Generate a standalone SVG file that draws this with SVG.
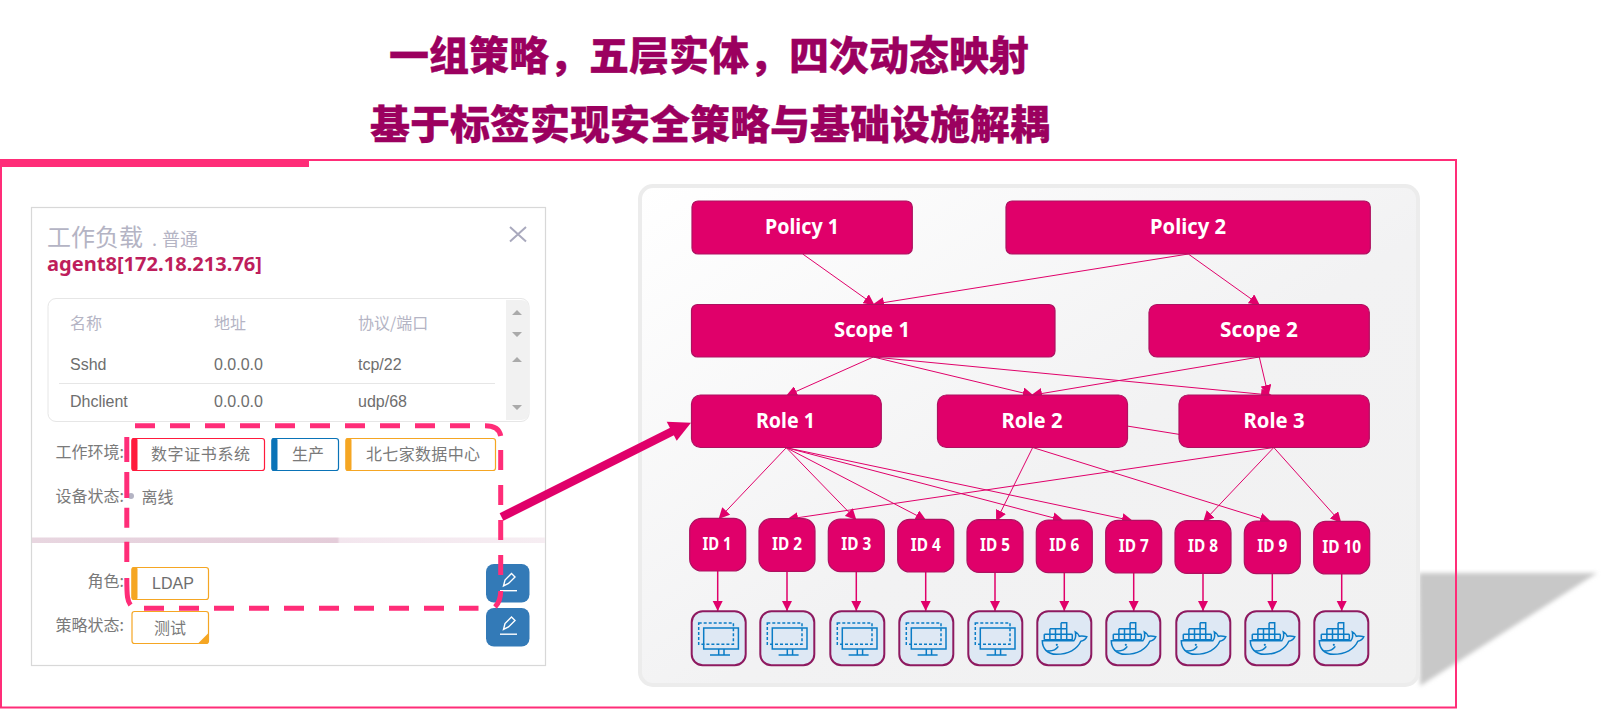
<svg xmlns="http://www.w3.org/2000/svg" width="1612" height="709" viewBox="0 0 1612 709">
<style>
.cjk{font-family:"Noto Sans CJK SC","Liberation Sans",sans-serif}
.title{font-family:"Noto Sans CJK SC",sans-serif;font-size:40px;font-weight:900;fill:#9b005f;stroke:#9b005f;stroke-width:.3}
.lbl{font-family:"Noto Sans CJK SC","Liberation Sans",sans-serif;font-size:16px;fill:#7a7a7a}
.hd{font-family:"Noto Sans CJK SC","Liberation Sans",sans-serif;font-size:16px;fill:#b4b4c4}
.cell{font-family:"Liberation Sans",sans-serif;font-size:16px;fill:#6e6e6e}
.tag{fill:#fff;stroke-width:1.2}
.n{fill:#e0006a;stroke:#ad1160;stroke-width:1.2}
.t{font-family:"Noto Sans","Open Sans",sans-serif;font-weight:700;fill:#fff;text-anchor:middle}
.t1{font-size:21px}
.t2{font-size:17px}
.box{fill:#dee8f4;stroke:#8e1a60;stroke-width:2}
.e{fill:none;stroke:#e0006a;stroke-width:1;marker-end:url(#h)}
.v{fill:none;stroke:#e0006a;stroke-width:1.5;marker-end:url(#hv)}
.i{fill:none;stroke:#0a7cc6;stroke-width:1.5}
.sa{fill:#aaa}
.btn{fill:#337ab7}
.pen{fill:none;stroke:#fff;stroke-width:1.4}
</style>
<defs>
<marker id="h" markerUnits="userSpaceOnUse" markerWidth="12" markerHeight="11" refX="9" refY="5.5" orient="auto"><path d="M0 0L11 5.5L0 11Z" fill="#e0006a"/></marker>
<marker id="hv" markerUnits="userSpaceOnUse" markerWidth="10" markerHeight="11" refX="10" refY="5" orient="auto"><path d="M0 0L10 5L0 10Z" fill="#e0006a"/></marker>
<linearGradient id="pg" x1="0" y1="0" x2="1" y2="1"><stop offset="0" stop-color="#fff"/><stop offset=".55" stop-color="#f2f2f3"/><stop offset="1" stop-color="#f1f1f1"/></linearGradient>
<linearGradient id="band" x1="0" y1="0" x2="1" y2="0"><stop offset="0" stop-color="#e8d6e0"/><stop offset=".595" stop-color="#e4ccd9"/><stop offset=".6" stop-color="#f3e6ee"/><stop offset="1" stop-color="#f6edf2"/></linearGradient>
<filter id="bl" x="-5%" y="-5%" width="110%" height="110%"><feGaussianBlur stdDeviation="2"/></filter>
<g id="vm"><rect class="i" x="7" y="11.7" width="34.7" height="21.3" stroke-dasharray="3 2"/><rect class="i" x="12" y="16.7" width="34.7" height="21" stroke-width="2"/><path class="i" d="M27 37.7V43.5M32.3 37.7V43.5M18.3 43.8H38.3"/></g>
<g id="whale"><path class="i" stroke-width="1.1" d="M5 29.5H36.5C38.5 27 38.8 24 38 20.5C40 21.5 41.5 23 42 25C44 24.5 47 24.8 49.5 25.5C48.5 28 46 29.5 43.5 30C40 38 31 43 19 43C10 43 5 37 5 29.5Z"/><path class="i" stroke-width="1.1" d="M10 39.5C15 40 19 38 21 35"/><circle cx="19.5" cy="33.5" r="1.1" fill="#0a7cc6"/><path class="i" stroke-width="1.4" d="M7 23H35M7 28.5H35M7 23V28.5M12.6 23V28.5M18.2 23V28.5M23.8 23V28.5M29.4 23V28.5M35 23V28.5M12.6 17.5H29.4M12.6 17.5V23M18.2 17.5V23M23.8 17.5V23M29.4 17.5V23M23.8 11.5H29.4V17.5M23.8 11.5V17.5"/></g>
</defs>

<rect width="1612" height="709" fill="#fff"/>
<g id="headline">
<text class="title" x="389" y="70">一组策略，五层实体，四次动态映射</text>
<text class="title" x="370" y="139">基于标签实现安全策略与基础设施解耦</text>
</g>

<g id="shadow"><path d="M1419 573H1597L1420 686Z" fill="#c8c8c8" filter="url(#bl)"/></g>
<g id="frame"><rect x="1" y="160" width="1455" height="547.5" fill="none" stroke="#ff2d78" stroke-width="2"/><rect x="0" y="159" width="309" height="8" fill="#ff2d78"/></g>

<g id="workload-card">
<rect x="31.5" y="207.5" width="514" height="458" fill="#fff" stroke="#d8d8d8" stroke-width="1.2"/>
<text class="cjk" x="47" y="246" font-size="24" fill="#b4b4c4">工作负载</text>
<text class="cjk" x="152" y="246" font-size="18" fill="#b4b4c4">.</text>
<text class="cjk" x="162" y="246" font-size="18" fill="#b4b4c4">普通</text>
<path d="M510 227L526 241.5M526 227L510 241.5" stroke="#a9a9bd" stroke-width="2" fill="none"/>
<text x="47" y="270.5" font-family="Noto Sans,Open Sans,sans-serif" font-size="19" font-weight="700" fill="#be1e5c" textLength="215" lengthAdjust="spacingAndGlyphs">agent8[172.18.213.76]</text>
<rect x="48" y="298.5" width="481" height="123" rx="8" fill="#fff" stroke="#e6e6e6"/>
<path d="M506 300H521Q529 300 529 308V412Q529 420 521 420H506Z" fill="#f1f1f1"/>
<path class="sa" d="M512 315H522L517 310ZM512 332H522L517 337ZM512 362H522L517 357ZM512 405H522L517 410Z"/>
<text class="hd" x="70" y="329">名称</text><text class="hd" x="214" y="329">地址</text><text class="hd" x="358" y="329">协议/端口</text>
<text class="cell" x="70" y="370">Sshd</text><text class="cell" x="214" y="370">0.0.0.0</text><text class="cell" x="358" y="370">tcp/22</text>
<path d="M59 383.5H495" stroke="#e6e6e6"/>
<text class="cell" x="70" y="407">Dhclient</text><text class="cell" x="214" y="407">0.0.0.0</text><text class="cell" x="358" y="407">udp/68</text>

<text class="lbl" x="124" y="458" text-anchor="end">工作环境:</text>
<rect class="tag" x="132" y="438.5" width="132.5" height="32" rx="2.5" stroke="#ff1a3c"/><rect x="131.5" y="438" width="6" height="33" rx="2" fill="#ff1a3c"/>
<text class="lbl" x="151" y="460" textLength="99">数字证书系统</text>
<rect class="tag" x="272" y="438.5" width="66.5" height="32" rx="2.5" stroke="#0a73b7"/><rect x="271.5" y="438" width="6" height="33" rx="2" fill="#0a73b7"/>
<text class="lbl" x="292" y="460">生产</text>
<rect class="tag" x="346" y="438.5" width="149.5" height="32" rx="2.5" stroke="#f5a623"/><rect x="345.5" y="438" width="6" height="33" rx="2" fill="#f5a623"/>
<text class="lbl" x="366" y="460" textLength="114">北七家数据中心</text>
<text class="lbl" x="124" y="502" text-anchor="end">设备状态:</text>
<circle cx="131" cy="496" r="3" fill="#b4b4c4"/>
<text class="lbl" x="141.5" y="503">离线</text>
<rect x="32" y="537.5" width="513" height="5.5" fill="url(#band)"/>
<text class="lbl" x="124" y="587" text-anchor="end">角色:</text>
<rect class="tag" x="132" y="567.5" width="76.5" height="32" rx="2.5" stroke="#f5a623"/><rect x="131.5" y="567" width="6" height="33" rx="2" fill="#f5a623"/>
<text class="cell" x="152" y="589" font-size="17">LDAP</text>
<text class="lbl" x="124" y="631" text-anchor="end">策略状态:</text>
<rect class="tag" x="132" y="611.5" width="76.5" height="32" rx="2.5" stroke="#f5a623"/><path d="M208.5 633V641Q208.5 643.5 206 643.5H198Z" fill="#f5a623"/>
<text class="lbl" x="154" y="634">测试</text>
<rect class="btn" x="486" y="564" width="43.5" height="38.5" rx="8"/>
<path class="pen" d="M503.5 586L505 580L511.5 573.5L515 577L508.5 583.5Z"/><path class="pen" d="M500 590.7H517"/>
<rect class="btn" x="486" y="608" width="43.5" height="38.5" rx="8"/>
<path class="pen" d="M503.5 629.5L505 623.5L511.5 617L515 620.5L508.5 627Z"/><path class="pen" d="M500 634.2H517"/>
</g>

<g id="selection"><path d="M135 425.7H155M170 425.7H190M205 425.7H225M240 425.7H260M275 425.7H295M310 425.7H330M345 425.7H365M380 425.7H400M415 425.7H435M450 425.7H470M485 425.7Q499 425.7 500.7 436M500.7 450V470M500.7 485V505M500.7 520V540M500.7 555V575M500.7 591C500.7 598 499 603 495 607M478.5 608.3H459M444 608.3H424M409 608.3H389M374 608.3H354M339 608.3H319M304 608.3H284M269 608.3H249M234 608.3H214M199 608.3H179M164 608.3H144M130.5 605C127.5 601 126.8 597 126.8 578M126.8 562V541.7M126.8 527.7V507.7M126.8 498V472M126.8 462V437" fill="none" stroke="#ff2d78" stroke-width="5"/></g>

<g id="policy-panel"><rect x="640" y="186" width="778" height="499" rx="13" fill="url(#pg)" stroke="#ececec" stroke-width="4"/></g>

<g id="callout-arrow"><path d="M501.5 517L673 431" stroke="#e0006a" stroke-width="8.5" fill="none"/><path d="M691 422.7L666.7 421.7L676.7 440.7Z" fill="#e0006a"/></g>

<g id="connectors">
<path class="e" d="M802.7 254L873 304"/>
<path class="e" d="M1188.3 254L875 304"/>
<path class="e" d="M1188.3 254L1258.3 304"/>
<path class="e" d="M873.3 357L788 395"/>
<path class="e" d="M873.3 357L1031.7 395"/>
<path class="e" d="M873.3 357L1270 395"/>
<path class="e" d="M1259.3 357L1033 395"/>
<path class="e" d="M1259.3 357L1268 394"/>
<path d="M1127 426L1180 434.5" fill="none" stroke="#e0006a" stroke-width="1"/>
<path class="e" d="M786.3 447.7L720 517.5"/>
<path class="e" d="M786.3 447.7L855 518.5"/>
<path class="e" d="M786.3 447.7L924.6 519.5"/>
<path class="e" d="M786.3 447.7L1061.7 520"/>
<path class="e" d="M786.3 447.7L1131 520.5"/>
<path class="e" d="M1032.7 447.5L997 519.5"/>
<path class="e" d="M1032.7 447.5L1269 521"/>
<path class="e" d="M1273.8 447.5L789 519"/>
<path class="e" d="M1273.8 447.5L1204.5 520.5"/>
<path class="e" d="M1273.8 447.5L1340 521.5"/>
<path class="v" d="M717.7 571V611"/>
<path class="v" d="M787 571V611"/>
<path class="v" d="M856.3 571V611"/>
<path class="v" d="M925.7 572V611"/>
<path class="v" d="M995 572V611"/>
<path class="v" d="M1064.3 572V611"/>
<path class="v" d="M1133.7 573V611"/>
<path class="v" d="M1203 573V611"/>
<path class="v" d="M1272.3 573V611"/>
<path class="v" d="M1341.7 574V611"/>
</g>

<g id="policy-1"><rect class="n" x="692" y="201" width="220.3" height="53" rx="6"/><text class="t t1" x="802" y="234" textLength="74" lengthAdjust="spacingAndGlyphs">Policy 1</text></g>
<g id="policy-2"><rect class="n" x="1006" y="201" width="364.3" height="53" rx="6"/><text class="t t1" x="1188" y="234" textLength="76" lengthAdjust="spacingAndGlyphs">Policy 2</text></g>
<g id="scope-1"><rect class="n" x="691.5" y="304.5" width="363.5" height="52.5" rx="6"/><text class="t t1" x="872" y="337" textLength="76" lengthAdjust="spacingAndGlyphs">Scope 1</text></g>
<g id="scope-2"><rect class="n" x="1149" y="304.5" width="220.3" height="52.5" rx="8"/><text class="t t1" x="1259" y="337" textLength="78" lengthAdjust="spacingAndGlyphs">Scope 2</text></g>
<g id="role-1"><rect class="n" x="691.5" y="395" width="189.8" height="52.5" rx="9"/><text class="t t1" x="785.5" y="427.5" textLength="59" lengthAdjust="spacingAndGlyphs">Role 1</text></g>
<g id="role-2"><rect class="n" x="937.5" y="395" width="190" height="52.5" rx="9"/><text class="t t1" x="1032" y="427.5" textLength="61" lengthAdjust="spacingAndGlyphs">Role 2</text></g>
<g id="role-3"><rect class="n" x="1179" y="395" width="190.3" height="52.5" rx="9"/><text class="t t1" x="1274" y="427.5" textLength="61" lengthAdjust="spacingAndGlyphs">Role 3</text></g>

<g id="id-1"><rect class="n" x="689.7" y="518.3" width="56" height="52.7" rx="12"/><text class="t t2" x="717" y="550" textLength="29" lengthAdjust="spacingAndGlyphs">ID 1</text></g>
<g id="id-2"><rect class="n" x="759" y="518.7" width="56" height="52.7" rx="12"/><text class="t t2" x="787" y="550" textLength="30" lengthAdjust="spacingAndGlyphs">ID 2</text></g>
<g id="id-3"><rect class="n" x="828.3" y="519" width="56" height="52.7" rx="12"/><text class="t t2" x="856.3" y="550" textLength="30" lengthAdjust="spacingAndGlyphs">ID 3</text></g>
<g id="id-4"><rect class="n" x="897.7" y="519.3" width="56" height="52.7" rx="12"/><text class="t t2" x="925.7" y="551" textLength="30" lengthAdjust="spacingAndGlyphs">ID 4</text></g>
<g id="id-5"><rect class="n" x="967" y="519.7" width="56" height="52.7" rx="12"/><text class="t t2" x="995" y="551" textLength="30" lengthAdjust="spacingAndGlyphs">ID 5</text></g>
<g id="id-6"><rect class="n" x="1036.3" y="520" width="56" height="52.7" rx="12"/><text class="t t2" x="1064.3" y="551" textLength="30" lengthAdjust="spacingAndGlyphs">ID 6</text></g>
<g id="id-7"><rect class="n" x="1105.7" y="520.3" width="56" height="52.7" rx="12"/><text class="t t2" x="1133.7" y="552" textLength="30" lengthAdjust="spacingAndGlyphs">ID 7</text></g>
<g id="id-8"><rect class="n" x="1175" y="520.7" width="56" height="52.7" rx="12"/><text class="t t2" x="1203" y="552" textLength="30" lengthAdjust="spacingAndGlyphs">ID 8</text></g>
<g id="id-9"><rect class="n" x="1244.3" y="521" width="56" height="52.7" rx="12"/><text class="t t2" x="1272.3" y="552" textLength="30" lengthAdjust="spacingAndGlyphs">ID 9</text></g>
<g id="id-10"><rect class="n" x="1313.7" y="521.3" width="56" height="52.7" rx="12"/><text class="t t2" x="1341.7" y="552.5" textLength="39" lengthAdjust="spacingAndGlyphs">ID 10</text></g>

<g id="vm-1" transform="translate(691.7 611.3)"><rect class="box" width="54" height="54" rx="11"/><use href="#vm"/></g>
<g id="vm-2" transform="translate(760.3 611.3)"><rect class="box" width="54" height="54" rx="11"/><use href="#vm"/></g>
<g id="vm-3" transform="translate(830.3 611.3)"><rect class="box" width="54" height="54" rx="11"/><use href="#vm"/></g>
<g id="vm-4" transform="translate(899.3 611.3)"><rect class="box" width="54" height="54" rx="11"/><use href="#vm"/></g>
<g id="vm-5" transform="translate(968.3 611.3)"><rect class="box" width="54" height="54" rx="11"/><use href="#vm"/></g>
<g id="ct-6" transform="translate(1037.3 611.3)"><rect class="box" width="54" height="54" rx="11"/><use href="#whale"/></g>
<g id="ct-7" transform="translate(1106.3 611.3)"><rect class="box" width="54" height="54" rx="11"/><use href="#whale"/></g>
<g id="ct-8" transform="translate(1176.3 611.3)"><rect class="box" width="54" height="54" rx="11"/><use href="#whale"/></g>
<g id="ct-9" transform="translate(1245.3 611.3)"><rect class="box" width="54" height="54" rx="11"/><use href="#whale"/></g>
<g id="ct-10" transform="translate(1314.3 611.3)"><rect class="box" width="54" height="54" rx="11"/><use href="#whale"/></g>
</svg>
